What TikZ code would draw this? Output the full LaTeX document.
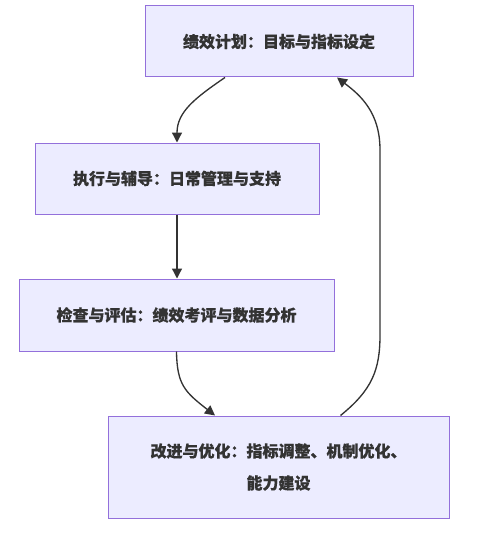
\documentclass[tikz,border=0pt]{standalone}
\usepackage{fontspec}
\setmainfont{Noto Sans CJK SC}[FakeBold=0.5]
\usetikzlibrary{arrows.meta,positioning,calc}
\definecolor{boxfill}{HTML}{ECECFF}
\definecolor{boxline}{HTML}{9370DB}
\definecolor{inkgray}{HTML}{333333}

\begin{document}
\begin{tikzpicture}[x=0.75pt,y=-0.75pt,font=\fontsize{12pt}{18pt}\selectfont,
 stagebox/.style={draw=boxline,fill=boxfill,line width=.75pt,text=inkgray,
  inner sep=0pt,align=center},
 flow/.style={draw=inkgray,line width=1pt,-{Triangle[length=7.5pt,width=7.5pt]}}]
\useasboundingbox (0,0) rectangle (479,535);
\node[stagebox,minimum width=201pt,minimum height=53.25pt] (plan) at (279,41.5)
 {\bfseries 绩效计划：目标与指标设定};
\node[stagebox,minimum width=213pt,minimum height=53.25pt] (coach) at (177,178.5)
 {\bfseries 执行与辅导：日常管理与支持};
\node[stagebox,minimum width=236.25pt,minimum height=54pt] (review) at (176.5,315)
 {\bfseries 检查与评估：绩效考评与数据分析};
\node[stagebox,minimum width=255.75pt,minimum height=76.5pt,
 font=\fontsize{12pt}{24pt}\selectfont\bfseries] (improve) at (278.5,467)
 {改进与优化：指标调整、机制优化、\\能力建设};
\draw[flow] ($(plan.south)+(-54,0)$) .. controls (195,98) and (177,112) .. (coach.north);
\draw[flow] (coach.south) -- (coach.south |- review.north);
\draw[flow] (review.south) .. controls (177,385) and (185,392) .. ($(improve.north)+(-63.5,0)$);
\draw[flow] ($(improve.north)+(62,0)$) .. controls (372,390) and (380,370) .. (380,335)
 -- (380,150) .. controls (380,112) and (360,95) .. ($(plan.south)+(58,0)$);
\end{tikzpicture}
\end{document}
